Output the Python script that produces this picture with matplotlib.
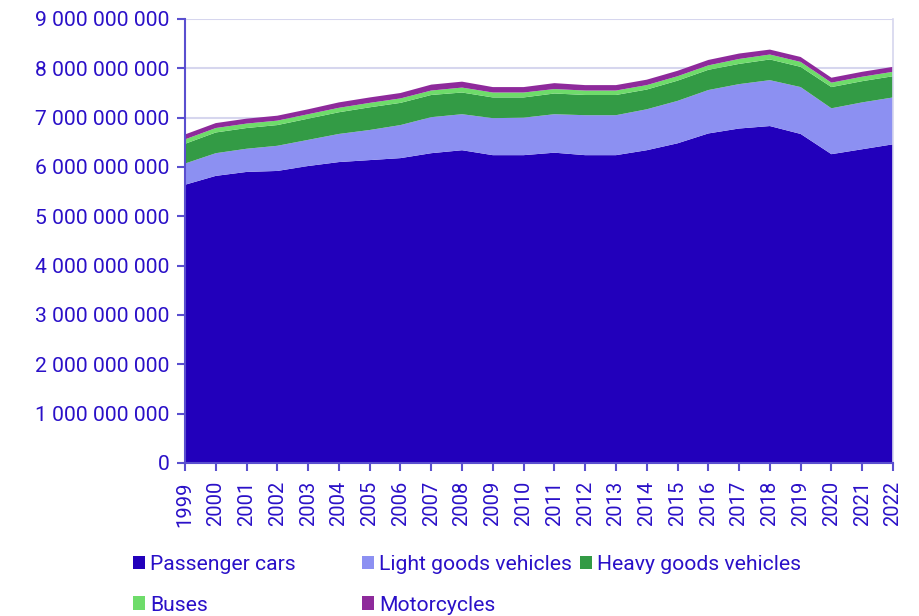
import matplotlib
matplotlib.use("Agg")
import matplotlib.pyplot as plt
from matplotlib.patches import Patch
from matplotlib.ticker import FuncFormatter
import numpy as np

years = list(range(1999, 2023))
passenger_cars = [5.64, 5.82, 5.90, 5.92, 6.02, 6.10, 6.14, 6.18, 6.28, 6.34, 6.24, 6.24,
                  6.29, 6.24, 6.24, 6.34, 6.48, 6.68, 6.78, 6.83, 6.67, 6.26, 6.36, 6.46]
light_goods = [0.43, 0.46, 0.47, 0.51, 0.53, 0.57, 0.61, 0.67, 0.73, 0.73, 0.75, 0.76,
               0.78, 0.81, 0.81, 0.83, 0.86, 0.88, 0.90, 0.93, 0.95, 0.93, 0.95, 0.95]
heavy_goods = [0.40, 0.42, 0.42, 0.42, 0.43, 0.44, 0.46, 0.45, 0.45, 0.44, 0.42, 0.41,
               0.42, 0.41, 0.41, 0.40, 0.41, 0.41, 0.41, 0.42, 0.41, 0.43, 0.43, 0.43]
buses = [0.09, 0.09, 0.09, 0.09, 0.09, 0.09, 0.09, 0.09, 0.09, 0.10, 0.10, 0.10,
         0.09, 0.09, 0.09, 0.09, 0.09, 0.09, 0.10, 0.10, 0.10, 0.09, 0.09, 0.09]
motorcycles = [0.10, 0.10, 0.10, 0.10, 0.10, 0.11, 0.11, 0.11, 0.12, 0.12, 0.11, 0.11,
               0.12, 0.11, 0.11, 0.11, 0.11, 0.11, 0.11, 0.10, 0.10, 0.10, 0.10, 0.10]
series_names = ["Passenger cars", "Light goods vehicles", "Heavy goods vehicles",
                "Buses", "Motorcycles"]
colors = ["#2200BB", "#8C90F2", "#339B45", "#6EDC6A", "#8E2A9B"]

scale = 1e9
data = [np.array(s) * scale for s in
        (passenger_cars, light_goods, heavy_goods, buses, motorcycles)]

text_color = "#2A10C8"
spine_color = "#5A4FCF"
grid_color = "#D6D6EE"

plt.rcParams['font.family'] = ['Roboto', 'DejaVu Sans']

fig = plt.figure(figsize=(9.2, 6.16), dpi=100)
ax = fig.add_axes([185 / 920, 1 - 463 / 616, (893 - 185) / 920, (463 - 19) / 616])

ax.stackplot(years, *data, colors=colors, linewidth=0)

ax.set_xlim(1999, 2022)
ax.set_ylim(0, 9e9)
ax.set_yticks(np.arange(0, 9.5e9, 1e9))
ax.yaxis.set_major_formatter(FuncFormatter(lambda v, p: f"{int(round(v)):,}".replace(",", " ")))
ax.set_xticks(years)
ax.set_xticklabels([str(y) for y in years], rotation=90)

ax.grid(axis='y', color=grid_color, linewidth=1.5)
ax.set_axisbelow(True)
ax.spines["top"].set_visible(False)
ax.spines["right"].set_color(grid_color)
ax.spines["right"].set_linewidth(1.2)
ax.spines["left"].set_color(spine_color)
ax.spines["left"].set_linewidth(1.5)
ax.spines["bottom"].set_color(spine_color)
ax.spines["bottom"].set_linewidth(1.5)
ax.tick_params(axis='both', colors=spine_color, labelcolor=text_color,
               length=6, width=1.5)
ax.tick_params(axis='y', labelsize=15.2, pad=5)
ax.tick_params(axis='x', labelsize=14.5, pad=7)

handles = [Patch(facecolor=c, edgecolor='none') for c in colors]
cols = [([0, 3], 133), ([1, 4], 362), ([2], 580)]
for idx, xpix in cols:
    leg = fig.legend([handles[i] for i in idx], [series_names[i] for i in idx],
                     loc='upper left', bbox_to_anchor=(xpix / 920, 1 - 555 / 616),
                     frameon=False, fontsize=15.2, borderpad=0, borderaxespad=0,
                     handlelength=0.57, handleheight=0.62, handletextpad=0.25,
                     labelspacing=1.02)
    for t in leg.get_texts():
        t.set_color(text_color)

fig.savefig("out.png", dpi=100)
